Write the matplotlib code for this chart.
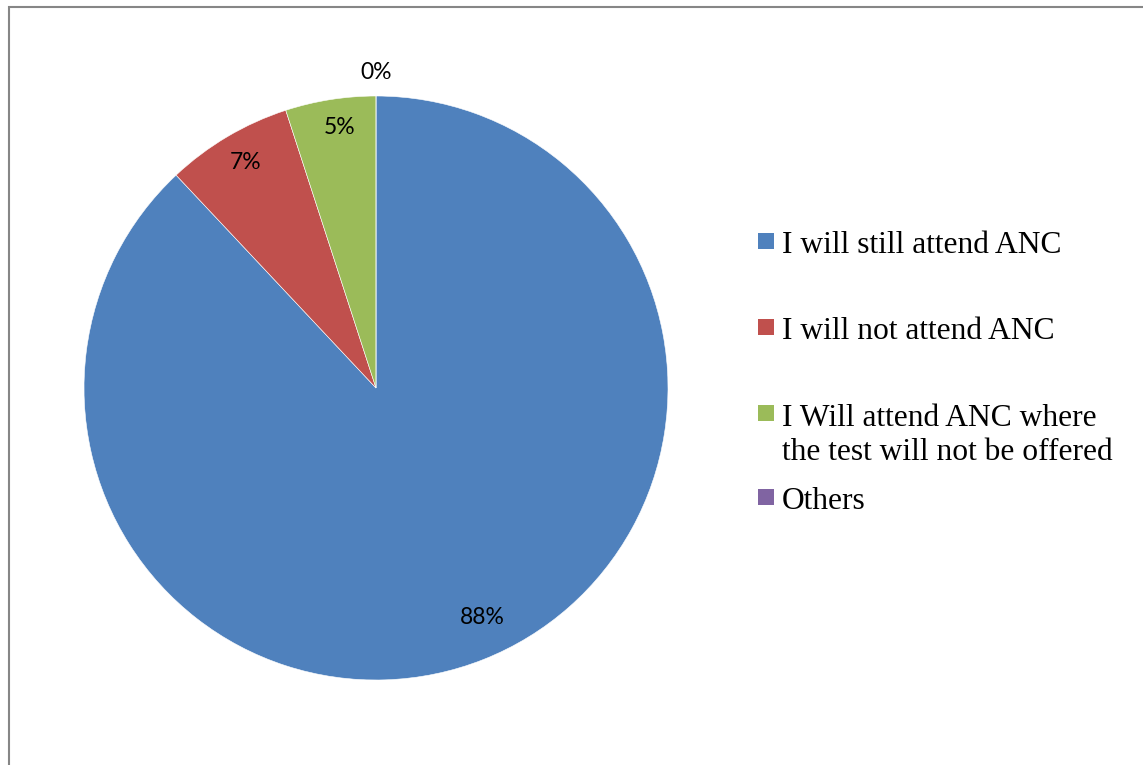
import matplotlib
matplotlib.use("Agg")
import matplotlib.pyplot as plt
from matplotlib.patches import Rectangle
import numpy as np

# survey responses
labels = ["I will still attend ANC",
          "I will not attend ANC",
          "I Will attend ANC where\nthe test will not be offered",
          "Others"]
values = [88, 7, 5, 0]
pct_text = ["88%", "7%", "5%", "0%"]
colors = ["#4F81BD", "#C0504D", "#9BBB59", "#8064A2"]

W, H = 1143, 765
fig = plt.figure(figsize=(W / 100, H / 100), dpi=100)

# gray chart border (right/bottom run off the page)
fig.patches.append(Rectangle((8.5 / W, -0.05), 1.2, (H - 7.5) / H + 0.05,
                             transform=fig.transFigure, fill=False,
                             edgecolor="#868686", linewidth=1.5, zorder=0))

cx, cy, r = 376, 388, 292
ax = fig.add_axes([(cx - r) / W, (H - cy - r) / H, 2 * r / W, 2 * r / H])
wedges, _ = ax.pie(values, colors=colors, startangle=90, counterclock=False,
                   wedgeprops=dict(edgecolor="white", linewidth=0.4))
ax.set_xlim(-1, 1)
ax.set_ylim(-1, 1)
ax.set_aspect("equal")

# percentage labels: radius and small angle nudge per slice
label_r = [0.865, 0.89, 0.90, 1.08]
label_da = [3.2, -0.6, -1.0, 0.0]
for w, txt, lr, da in zip(wedges, pct_text, label_r, label_da):
    ang = np.deg2rad((w.theta1 + w.theta2) / 2 + da)
    ax.text(lr * np.cos(ang), lr * np.sin(ang), txt, ha="center", va="center",
            fontsize=16.5, family="Lato", color="black", clip_on=False)

# legend entries: marker at first line, text anchored at its last baseline
first_base = [253, 339, 425, 509]
last_base = [253, 339, 460, 509]
for lab, col, yf, yl in zip(labels, colors, first_base, last_base):
    fig.patches.append(Rectangle((758 / W, (H - yf + 4) / H), 16 / W, 16 / H,
                                 transform=fig.transFigure, facecolor=col,
                                 edgecolor="none"))
    fig.text(782 / W, (H - yl) / H, lab, ha="left", va="baseline",
             fontsize=22.7, family="Liberation Serif", color="black",
             linespacing=1.22)

fig.savefig("out.png", dpi=100, facecolor="white")
